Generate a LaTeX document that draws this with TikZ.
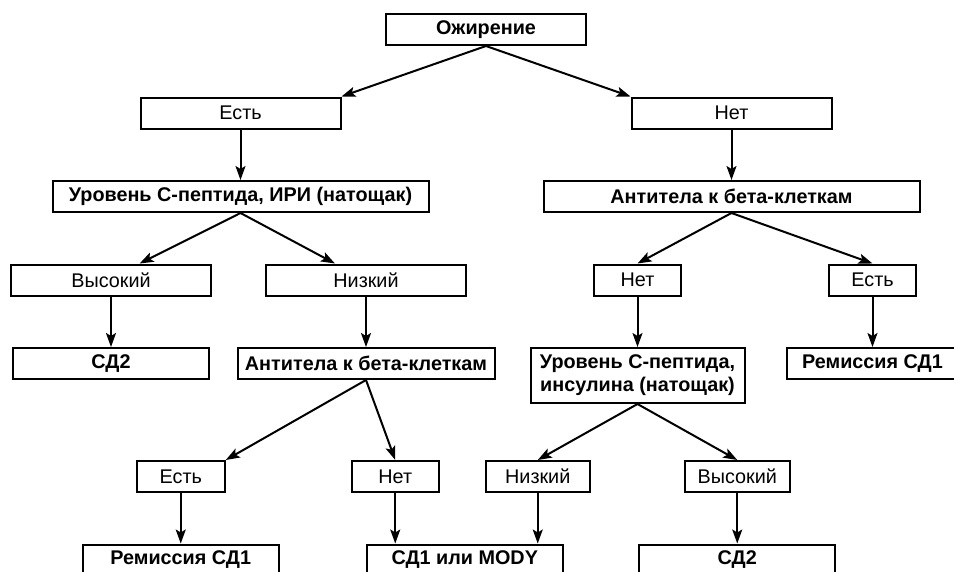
\documentclass[tikz,border=0pt]{standalone}
\usepackage{fontspec}
\setmainfont{Liberation Sans}
\usetikzlibrary{arrows.meta}
\begin{document}
\begin{tikzpicture}[
	every node/.style={rectangle, draw, line width=2pt, anchor=north, minimum height=31pt, inner xsep=2pt, font=\fontsize{19.8pt}{23pt}\selectfont},
	krupny/.style={font=\fontsize{19.8pt}{23pt}\selectfont\bfseries},
	strelka/.style={line width=2pt, -{Stealth[length=14pt,width=10pt,inset=3pt]}},
	edge from parent/.style={draw, strelka},
	pryamo/.style={edge from parent path={(\tikzparentnode.south) -- (\tikzparentnode.south |- \tikzchildnode.north)}},
	every child/.style={child anchor=north},
	growth parent anchor=north, parent anchor=south,
	level distance=83.5pt,
	level 5/.style={level distance=113pt},
	level 6/.style={level distance=83.5pt}]
	\useasboundingbox (0,0) rectangle (954pt,-571pt);
	\node[krupny, minimum width=200pt] (ozhirenie) at (486pt,-13pt) {Ожирение}[sibling distance=491pt]
	child[child anchor=north east] {
		node[minimum width=200pt] (est) {Есть}
		child {
			node[krupny, minimum width=376pt] (uroven) {Уровень С-пептида, ИРИ (натощак)}[sibling distance=255pt]
			child[child anchor=30, xshift=-2pt] {
				node[minimum width=200pt] (vysokiy) {Высокий}
				child {
					node[krupny, minimum width=196pt] (sd2) {СД2}
				}
			}
			child[child anchor=152, xshift=-2pt] {
				node[minimum width=200pt] (nizkiy) {Низкий}
				child {
					node[krupny, minimum width=257pt] (antitela) {Антитела к бета-клеткам}[sibling distance=214.5pt]
					child[xshift=-78pt, child anchor=north east] {
						node[minimum width=88pt] (est3) {Есть}
						child {
							node[krupny, minimum width=196pt] (remissiya) {Ремиссия СД1}
						}
					}
					child[xshift=-78pt] {
						node[minimum width=87pt] (net3) {Нет}
						child[xshift=69.5pt, pryamo] {
							node[krupny, minimum width=196pt] (sd1mody) {СД1 или MODY}
						}
					}
				}
			}
		}
	}
	child[child anchor=north west] {
		node[minimum width=200pt] (net) {Нет}
		child {
			node[krupny, minimum width=376pt] (antitela2) {Антитела к бета-клеткам}[sibling distance=235pt]
			child[xshift=23.5pt] {
				node[minimum width=87pt] (net2) {Нет}
				child {
					node[krupny, minimum width=214pt, minimum height=55pt, align=center] (uroven2) {Уровень С-пептида,\\инсулина (натощак)}[sibling distance=199.5pt]
					child {
						node[minimum width=104pt] (nizkiy2) {Низкий}
					}
					child {
						node[minimum width=105pt] (vysokiy2) {Высокий}
						child {
							node[krupny, minimum width=196pt] (sd2b) {СД2}
						}
					}
				}
			}
			child[xshift=23.5pt] {
				node[minimum width=87pt] (est2) {Есть}
				child {
					node[krupny, minimum width=171pt] (remissiya2) {Ремиссия СД1}
				}
			}
		}
	};
	\draw[strelka] (nizkiy2.south) -- (nizkiy2.south |- sd1mody.north);
\end{tikzpicture}
\end{document}
